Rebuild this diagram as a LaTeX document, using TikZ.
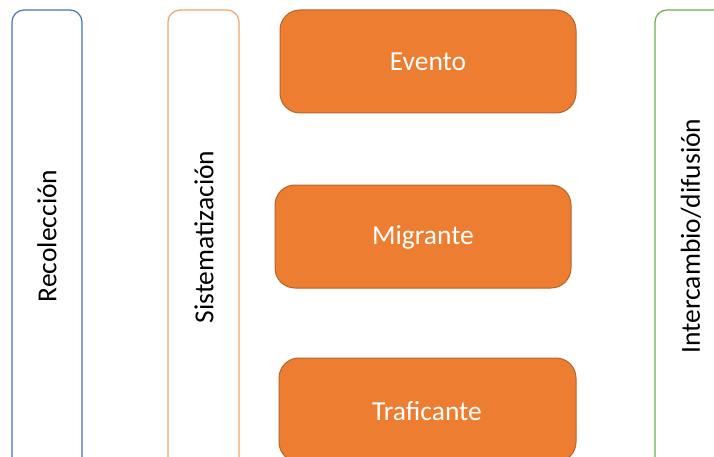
\documentclass[tikz,border=0pt]{standalone}
\usepackage{fontspec}
\setmainfont{Carlito}
\definecolor{cblue}{HTML}{4472C4}
\definecolor{corange}{HTML}{ED7D31}
\definecolor{corangeline}{HTML}{F4A46B}
\definecolor{cdark}{HTML}{B8632A}
\definecolor{cgreen}{HTML}{70AD47}
\begin{document}
\begin{tikzpicture}[x=1pt,y=-1pt,
  phase/.style={draw, line width=1.2pt, rounded corners=12pt, fill=white},
  item/.style={draw=cdark, line width=1pt, fill=corange, rounded corners=20pt},
  lbl/.style={font=\fontsize{27.5}{32}\selectfont, inner sep=0pt},
  vlbl/.style={lbl, rotate=90, text=black},
  wlbl/.style={lbl, text=white}]
\useasboundingbox (0,0) rectangle (714,457);
\clip (0,0) rectangle (714,457);
% phase columns
\draw[phase, draw=cblue] (12,10) rectangle (82,480);
\node[vlbl] (rec) at (47,236) {Recolección};
\draw[phase, draw=corangeline] (168,10) rectangle (239,480);
\node[vlbl] (sis) at (204,237) {Sistematización};
\draw[phase, draw=cgreen] (655,10) rectangle (760,480);
\node[vlbl] (int) at (691,236) {Intercambio/difusión};
% item boxes
\draw[item] (280,10) rectangle (576,113);
\node[wlbl] (eve) at (428,62) {Evento};
\draw[item] (275,185) rectangle (571,288);
\node[wlbl] (mig) at (423,237) {Migrante};
\draw[item] (279,358) rectangle (576,462);
\node[wlbl] (tra) at (427,411) {Traficante};
\end{tikzpicture}
\end{document}
